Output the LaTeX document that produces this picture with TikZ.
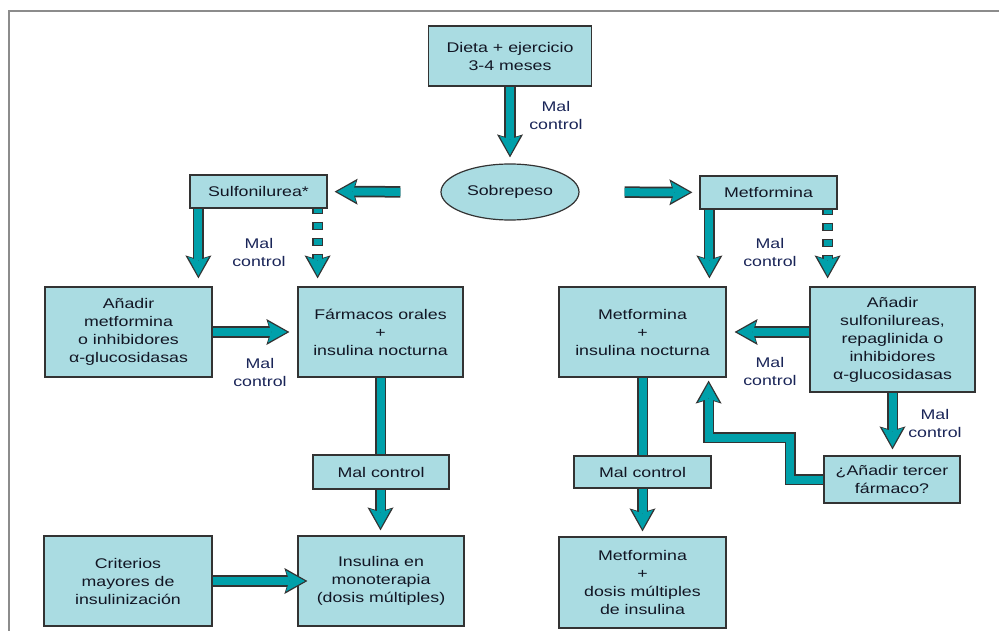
\documentclass[tikz,border=0pt]{standalone}
\usepackage{fontspec}
\setmainfont[FakeStretch=1.27]{Liberation Sans}
\usetikzlibrary{shapes.geometric,arrows.meta,backgrounds}
\definecolor{boxc}{HTML}{AADCE2}
\definecolor{arrc}{HTML}{00A0AA}
\definecolor{edgec}{HTML}{333333}
\definecolor{txtc}{HTML}{121624}
\definecolor{lblc}{HTML}{1A2558}
\definecolor{framec}{HTML}{8C8C8C}

\begin{document}
\begin{tikzpicture}[x=1pt,y=-1pt,font=\fontsize{14}{18}\selectfont,text=txtc,
  box/.style 2 args={draw=edgec, fill=boxc, line width=1.2pt, align=center, inner sep=0pt, minimum width=#1, minimum height=#2},
  lbl/.style={align=center, text=lblc, inner sep=0pt},
  fatline/.style={draw=arrc, line width=8pt, preaction={draw=edgec, line width=11.5pt}},
  fat/.style={draw=arrc, line width=8pt, shorten >=#1+2.5pt, -{Stealth[length=19pt,width=21pt,inset=3.5pt,line width=0pt]},
    preaction={draw=edgec, line width=11.5pt, shorten >=#1, -{Stealth[length=23pt,width=26pt,inset=4pt,line width=0pt]}}},
  fat/.default=7pt,
  dfat/.style={draw=arrc, line width=8pt, shorten >=#1+2.5pt, dash pattern=on 6pt off 10pt, dash phase=2pt,
    -{Stealth[length=19pt,width=21pt,inset=3.5pt,line width=0pt]},
    preaction={draw=edgec, line width=11.5pt, shorten >=#1, dash pattern=on 8pt off 8pt, dash phase=3pt,
      -{Stealth[length=23pt,width=26pt,inset=4pt,line width=0pt]}}},
  dfat/.default=7pt]
  \useasboundingbox (0,0) rectangle (999,631);
  \draw[framec, line width=2.5pt] (8,11) -- (999,11);
  \draw[framec, line width=1.2pt] (9,11) -- (9,631);

  \node[box={163pt}{60pt}] (dieta) at (510,56) {Dieta + ejercicio\\3-4 meses};
  \node[ellipse, draw=edgec, fill=boxc, line width=1.2pt, inner sep=0pt, minimum width=138pt, minimum height=56pt] (sobre) at (510,192) {Sobrepeso};
  \node[box={137pt}{33pt}] (sulf) at (258.5,191.5) {Sulfonilurea*};
  \node[box={137pt}{33pt}] (metf) at (768.5,192.5) {Metformina};
  \node[box={167pt}{90pt}] (anadir) at (128.5,332) {Añadir\\metformina\\o inhibidores\\α-glucosidasas};
  \node[box={165pt}{90pt}] (farm) at (380.5,332) {Fármacos orales\\+\\insulina nocturna};
  \node[box={167pt}{90pt}] (metins) at (642.5,332) {Metformina\\+\\insulina nocturna};
  \node[box={165pt}{105pt}] (anadirs) at (892.5,339.5) {Añadir\\sulfonilureas,\\repaglinida o\\inhibidores\\α-glucosidasas};
  \node[box={136pt}{47pt}] (tercer) at (892,479.5) {¿Añadir tercer\\fármaco?};
  \node[box={136pt}{34pt}] (malizq) at (381,472) {Mal control};
  \node[box={137pt}{32pt}] (malder) at (642.5,472) {Mal control};
  \node[box={168pt}{90pt}] (crit) at (128,581) {Criterios\\mayores de\\insulinización};
  \node[box={166pt}{90pt}] (insmono) at (381,581) {Insulina en\\monoterapia\\(dosis múltiples)};
  \node[box={167pt}{91pt}] (dosis) at (642.5,582.5) {Metformina\\+\\dosis múltiples\\de insulina};

  \node[lbl] (mc1) at (556,115) {Mal\\control};
  \node[lbl] (mc2) at (259,252) {Mal\\control};
  \node[lbl] (mc3) at (770,252) {Mal\\control};
  \node[lbl] (mc4) at (260,372) {Mal\\control};
  \node[lbl] (mc5) at (770,371) {Mal\\control};
  \node[lbl] (mc6) at (935,423) {Mal\\control};

  \begin{scope}[on background layer]
    \draw[fat=6pt] (dieta) -- (sobre);
    \draw[fat, shorten <=40pt] (sobre) -- (sulf);
    \draw[fat, shorten <=45pt] (sobre) -- (metf);
    \draw[fat=8pt] ([xshift=9pt]sulf.south west) -- ([xshift=9pt]sulf.south west |- anadir.north);
    \draw[dfat=8pt] ([xshift=-10pt]sulf.south east) -- ([xshift=-10pt]sulf.south east |- farm.north);
    \draw[fat=8pt] ([xshift=10pt]metf.south west) -- ([xshift=10pt]metf.south west |- metins.north);
    \draw[dfat=8pt] ([xshift=-10pt]metf.south east) -- ([xshift=-10pt]metf.south east |- anadirs.north);
    \draw[fat=8pt] (anadir) -- (farm);
    \draw[fat=8pt] (metins.east -| anadirs.west) -- (metins.east);
    \draw[fatline] (farm.south) -- (farm.south |- malizq.north);
    \draw[fat=5pt] (farm.south |- malizq.south) -- (farm.south |- insmono.north);
    \draw[fatline] (metins.south) -- (metins.south |- malder.north);
    \draw[fat=5pt] (metins.south |- malder.south) -- (metins.south |- dosis.north);
    \draw[fat=6pt] (anadirs.south) -- (anadirs.south |- tercer.north);
    \draw[fat=3pt] (tercer.west) -- ++(-33,0) -- ++(0,-42) -| ([xshift=-18pt]metins.south east);
  \end{scope}
  \draw[fat=-10pt] (crit) -- (insmono);
\end{tikzpicture}
\end{document}
